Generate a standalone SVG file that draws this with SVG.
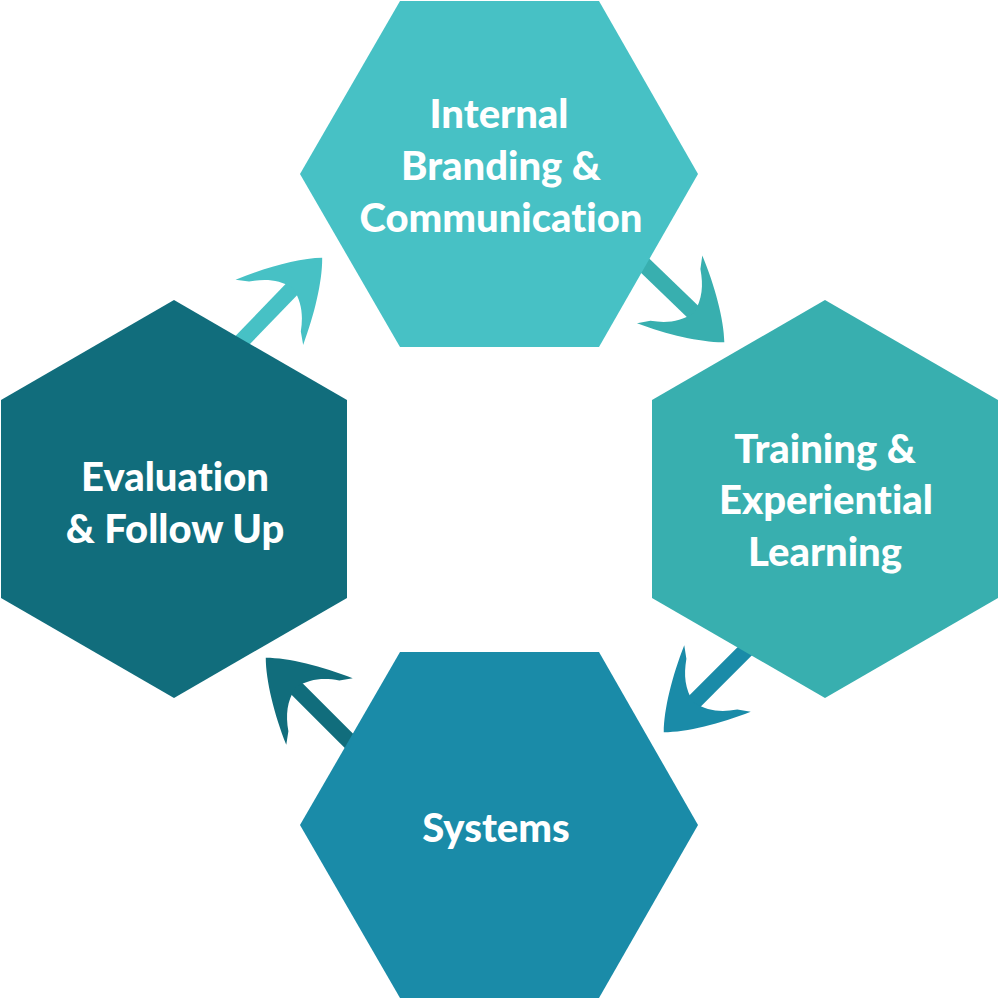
<svg xmlns="http://www.w3.org/2000/svg" width="1000" height="1000" viewBox="0 0 1000 1000">
<defs>
<style>
.lbl{font-family:Lato,"Open Sans","Liberation Sans",sans-serif;font-weight:900;font-size:40px;fill:#ffffff;text-anchor:middle;font-variant-ligatures:none}
</style>
<g id="arrowShape">
<rect x="-135" y="-8" width="115" height="16"/>
<path d="M 6 0 C -10 -16, -40 -34, -70 -47 L -62 -36 C -48 -26, -40 -16, -36 0 C -40 16, -48 26, -62 36 L -70 47 C -40 34, -10 16, 6 0 Z"/>
</g>
</defs>
<rect width="1000" height="1000" fill="#ffffff"/>
<g id="connectors">
<use href="#arrowShape" fill="#47C1C5" transform="translate(318,262) rotate(-46)"/>
<use href="#arrowShape" fill="#38AFAF" transform="translate(720,338) rotate(44)"/>
<use href="#arrowShape" fill="#1A8BA8" transform="translate(668,728) rotate(135)"/>
<use href="#arrowShape" fill="#116D7C" transform="translate(270,662) rotate(-135)"/>
</g>
<g id="node-internal">
<polygon points="400,1 599,1 698,174 599,347 400,347 300,174" fill="#47C1C5"/>
<text class="lbl" x="499" y="128">Internal</text>
<text class="lbl" x="501" y="180">Branding &amp;</text>
<text class="lbl" x="501" y="232">Communication</text>
</g>
<g id="node-training">
<polygon points="825,300 998,400 998,598 825,698 652,598 652,400" fill="#38AFAF"/>
<text class="lbl" x="825" y="463">Training &amp;</text>
<text class="lbl" x="826" y="514">Experiential</text>
<text class="lbl" x="825" y="566">Learning</text>
</g>
<g id="node-systems">
<polygon points="400,652 599,652 698,825 599,998 400,998 300,825" fill="#1A8BA8"/>
<text class="lbl" x="496" y="842">Systems</text>
</g>
<g id="node-evaluation">
<polygon points="174,300 347,400 347,598 174,698 1,598 1,400" fill="#116D7C"/>
<text class="lbl" x="175" y="491">Evaluation</text>
<text class="lbl" x="175" y="543">&amp; Follow Up</text>
</g>
</svg>
